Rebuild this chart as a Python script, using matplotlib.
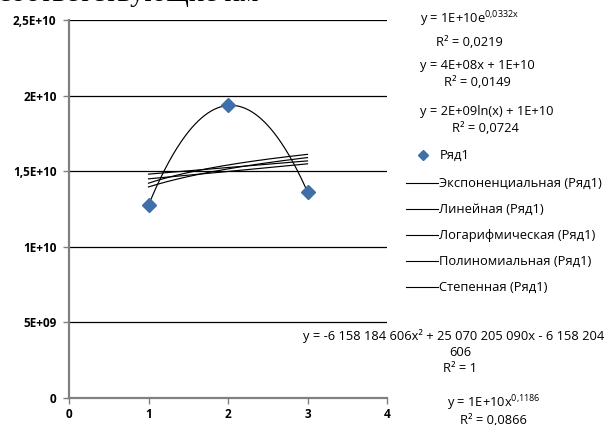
import numpy as np
import matplotlib
matplotlib.use("Agg")
import matplotlib.pyplot as plt
from matplotlib.lines import Line2D

plt.rcParams['font.family'] = ['Open Sans', 'DejaVu Sans']
plt.rcParams['mathtext.fontset'] = 'custom'
plt.rcParams['mathtext.rm'] = 'Open Sans'
plt.rcParams['mathtext.it'] = 'Open Sans'

# data
x_vals = [1, 2, 3]
y_vals = [12753815878, 19349467150, 13628749210]
y_ticks = [0, 5e9, 1e10, 1.5e10, 2e10, 2.5e10]
y_tick_labels = ["0", "5E+09", "1E+10", "1,5E+10", "2E+10", "2,5E+10"]
x_ticks = [0, 1, 2, 3, 4]
x_tick_labels = ["0", "1", "2", "3", "4"]
series_name = "Ряд1"
trend_names = ["Экспоненциальная (Ряд1)", "Линейная (Ряд1)", "Логарифмическая (Ряд1)",
               "Полиномиальная (Ряд1)", "Степенная (Ряд1)"]

x = np.array(x_vals, dtype=float)
y = np.array(y_vals, dtype=float)
xs = np.linspace(x.min(), x.max(), 200)

# trend fits
b_exp, a_exp = np.polyfit(x, np.log(y), 1)
exp_fit = np.exp(a_exp) * np.exp(b_exp * xs)
lin = np.polyfit(x, y, 1)
lin_fit = np.polyval(lin, xs)
lg = np.polyfit(np.log(x), y, 1)
log_fit = lg[0] * np.log(xs) + lg[1]
poly = np.polyfit(x, y, 2)
poly_fit = np.polyval(poly, xs)
pw = np.polyfit(np.log(x), np.log(y), 1)
pow_fit = np.exp(pw[1]) * xs ** pw[0]

fig = plt.figure(figsize=(6.08, 4.25), dpi=100)
ax = fig.add_axes([69/608, 1-398/425, (387-69)/608, (398-20)/425])

for yt in y_ticks[1:]:
    ax.axhline(yt, color='black', lw=0.9, zorder=1)

for f in [exp_fit, lin_fit, log_fit, poly_fit, pow_fit]:
    ax.plot(xs, f, color='black', lw=0.85, zorder=2)

ax.plot(x, y, linestyle='none', marker='D', markersize=7, color='#3F6FA8',
        markeredgecolor='#3F6FA8', zorder=3)

ax.set_xlim(0, 4)
ax.set_ylim(0, 2.5e10)
ax.set_xticks(x_ticks)
ax.set_xticklabels(x_tick_labels)
ax.set_yticks(y_ticks)
ax.set_yticklabels(y_tick_labels)
for s in ['top', 'right']:
    ax.spines[s].set_visible(False)
for s in ['left', 'bottom']:
    ax.spines[s].set_color('#808080')
    ax.spines[s].set_linewidth(1.6)
ax.tick_params(axis='both', colors='#808080', length=4, width=1, labelcolor='black',
               labelsize=8.5)
ax.tick_params(axis='y', pad=5)
for lbl in ax.get_xticklabels() + ax.get_yticklabels():
    lbl.set_fontweight('bold')

# clipped heading at the top (only its lower part is visible)
fig.text(-2/608, 1 - 1/425, "соответствующие им", family='Liberation Serif',
         fontsize=21, ha='left', va='baseline', color='black')

fs = 9.3
def ftxt(px, py, s, ha='left'):
    fig.text(px/608, 1-py/425, s, fontsize=fs, ha=ha, va='center', color='black')

ftxt(420, 19, r"y = 1E+10e$^{\mathrm{0{,}0332x}}$")
ftxt(436, 43, "R² = 0,0219")
ftxt(420, 65, "y = 4E+08x + 1E+10")
ftxt(444, 82, "R² = 0,0149")
ftxt(420, 111, "y = 2E+09ln(x) + 1E+10")
ftxt(452, 128, "R² = 0,0724")

# legend
fig.add_artist(Line2D([423/608], [1-155/425], marker='D', markersize=5.5,
                      color='#3F6FA8', linestyle='none'))
ftxt(440, 155, series_name)
leg_y = [183, 209, 235, 261, 287]
for ly, name in zip(leg_y, trend_names):
    fig.add_artist(Line2D([406/608, 438/608], [1-ly/425, 1-ly/425], color='black', lw=0.8))
    ftxt(439, ly, name)

ftxt(303, 336, "y = -6 158 184 606x² + 25 070 205 090x - 6 158 204")
ftxt(460, 353, "606", ha='center')
ftxt(460, 369, "R² = 1", ha='center')
ftxt(447, 403, r"y = 1E+10x$^{\mathrm{0{,}1186}}$")
ftxt(460, 420, "R² = 0,0866")

fig.savefig("out.png", dpi=100)
